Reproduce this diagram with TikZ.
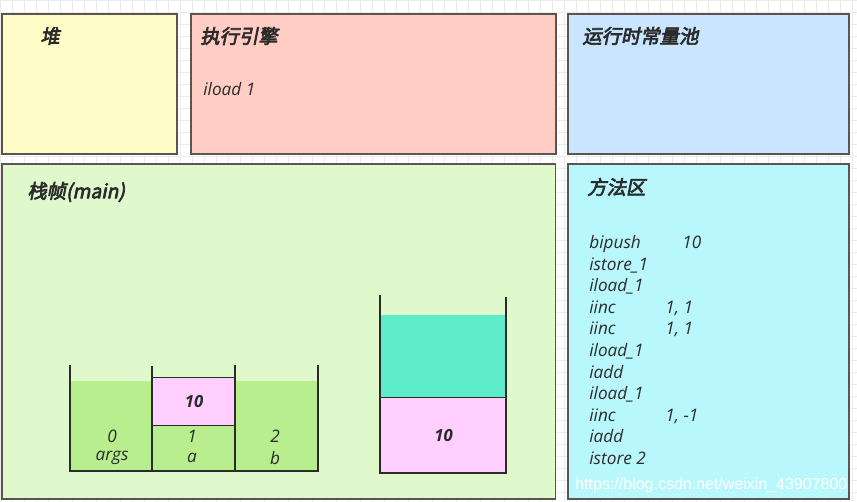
\documentclass[tikz,border=0pt]{standalone}
\usepackage{fontspec}
\setmainfont{Open Sans}
\newfontfamily\cjk{Noto Sans CJK SC}[AutoFakeSlant=0.2,AutoFakeBold=3.5]
\newfontfamily\markfont{Liberation Sans}
\usetikzlibrary{positioning}

\definecolor{ink}{HTML}{2B2B2B}
\definecolor{edge}{HTML}{5A5550}
\definecolor{gridc}{HTML}{EBEBEB}
\definecolor{heapfill}{HTML}{FFFCC8}
\definecolor{enginefill}{HTML}{FFCDC4}
\definecolor{poolfill}{HTML}{C9E5FF}
\definecolor{framefill}{HTML}{E0F9CC}
\definecolor{methodfill}{HTML}{B8F8FC}
\definecolor{slotfill}{HTML}{B9EE8F}
\definecolor{pinkfill}{HTML}{FFD0FF}
\definecolor{tealfill}{HTML}{5DEDCA}

\begin{document}
\begin{tikzpicture}[%
    x=0.02cm, y=-0.02cm,
    node distance=0.44cm,
    on grid,
    panel/.style={draw=edge, line width=0.9pt, anchor=north west, inner sep=0pt},
    title/.style={anchor=west, inner sep=0pt, text=ink,
      font=\cjk\bfseries\itshape\fontsize{11}{13}\selectfont},
    code/.style={anchor=base west, inner sep=0pt, text=ink,
      font=\itshape\fontsize{9.8}{12}\selectfont},
    lbl/.style={inner sep=0pt, text=ink, font=\itshape\fontsize{9.8}{12}\selectfont},
    val/.style={inner sep=0pt, text=ink, font=\bfseries\itshape\fontsize{9.5}{12}\selectfont},
    cell/.style={val, draw=ink, line width=0.6pt, fill=pinkfill, anchor=north west},
    wall/.style={draw=ink, line width=1.3pt}
  ]
    \useasboundingbox (0,0) rectangle (857,502);
    \fill[white] (0,0) rectangle (857,502);
    \draw[gridc, line width=0.3pt, step=0.24cm] (0,0) grid (857,502);

    \node[panel, fill=heapfill, minimum width=3.5cm, minimum height=2.8cm] (heap) at (1,13) {};
    \node[panel, fill=enginefill, minimum width=7.3cm, minimum height=2.8cm] (engine) at (190,13) {};
    \node[panel, fill=poolfill, minimum width=5.62cm, minimum height=2.8cm] (pool) at (567,13) {};
    \node[panel, fill=framefill, minimum width=11.08cm, minimum height=6.7cm] (frame) at (1,163) {};
    \node[panel, fill=methodfill, minimum width=5.62cm, minimum height=6.7cm] (method) at (567,163) {};

    \node[title] (heapT) at ([shift={(39,23)}]heap.north west) {堆};
    \node[title] (engineT) at ([shift={(10,23)}]engine.north west) {执行引擎};
    \node[title] (poolT) at ([shift={(15,23)}]pool.north west) {运行时常量池};
    \node[title] (frameT) at ([shift={(26,29)}]frame.north west) {栈帧(main)};
    \node[title] (methodT) at ([shift={(20,24)}]method.north west) {方法区};

    \node[code] (cur) at (203,96) {iload 1};

    \foreach \op [count=\i] in {bipush, istore\_1, iload\_1, iinc, iinc, iload\_1,
                                 iadd, iload\_1, iinc, iadd, istore 2}
      \node[code] (op\i) at (589,227.5+21.5*\i) {\op};
    \node[code] (arg1) at ([xshift=1.86cm]op1.base west) {10};
    \node[code] (arg4) at ([xshift=1.52cm]op4.base west) {1, 1};
    \node[code] (arg5) at ([xshift=1.52cm]op5.base west) {1, 1};
    \node[code] (arg9) at ([xshift=1.52cm]op9.base west) {1, -1};

    \fill[slotfill] (70,381) rectangle (318,471);
    \node[cell, minimum width=1.66cm, minimum height=0.96cm] (v1) at (152,377) {10};
    \draw[wall] (70,365) -- (70,471) -- (318,471) -- (318,365);
    \draw[wall] (152,366) -- (152,471);
    \draw[wall] (235,365) -- (235,471);

    \node[lbl] (idx0) at (112,436) {0};
    \node[lbl, below=of idx0] (name0) {args};
    \node[lbl] (idx1) at (192,436) {1};
    \node[lbl, below=of idx1] (name1) {a};
    \node[lbl] (idx2) at (275,436) {2};
    \node[lbl, below=of idx2] (name2) {b};

    \fill[tealfill] (380,315) rectangle (506,397);
    \node[cell, minimum width=2.52cm, minimum height=1.52cm] (top) at (380,397) {10};
    \draw[wall] (380,295) -- (380,473) -- (506,473) -- (506,297);

    \node[anchor=west, inner sep=0pt, text=white, font=\markfont\fontsize{9.1}{12}\selectfont]
      (mark) at (575,485) {https://blog.csdn.net/weixin\_43907800};
\end{tikzpicture}
\end{document}
